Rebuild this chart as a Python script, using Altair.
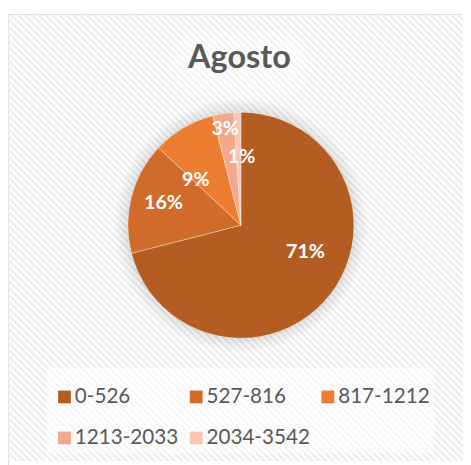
import altair as alt
import pandas as pd

# ---- data ----
categories = ["0-526", "527-816", "817-1212", "1213-2033", "2034-3542"]
values = [71, 16, 9, 3, 1]
colors = ["#B45D22", "#D06B2A", "#ED7D31", "#F1A88B", "#F6C6B6"]
title_text = "Agosto"

W, H = 463, 457
CX, CY, R = 237, 217, 115

df = pd.DataFrame({"cat": categories, "value": values, "idx": list(range(len(categories)))})
df["label"] = [f"{v}%" for v in values]
one = pd.DataFrame({"a": [0]})

# frame
frame = alt.Chart(one).mark_rect(fill="white", stroke="#D9D9D9", strokeWidth=1).encode(
    x=alt.value(0.5), y=alt.value(2.5), x2=alt.value(W + 20), y2=alt.value(H + 20)
)

# diagonal hatch background
stripes = (
    alt.Chart(alt.sequence(start=-480, stop=480, step=7, as_="c"))
    .transform_calculate(x0="datum.c", y0="3", x1="datum.c + 480", y1="483")
    .mark_rule(stroke="#EEEEEE", strokeWidth=2.6, clip=True)
    .encode(
        x=alt.X("x0:Q", scale=None, axis=None),
        y=alt.Y("y0:Q", scale=None, axis=None),
        x2="x1:Q",
        y2="y1:Q",
    )
)

legend_box = alt.Chart(one).mark_rect(fill="white", opacity=0.55).encode(
    x=alt.value(39), y=alt.value(362), x2=alt.value(434), y2=alt.value(449)
)

title_glow = [
    alt.Chart(one).mark_rect(fill="white", opacity=0.2, cornerRadius=cr).encode(
        x=alt.value(175 - g), y=alt.value(30 - g), x2=alt.value(297 + g), y2=alt.value(75 + g)
    )
    for g, cr in [(12, 30), (6, 24), (0, 18)]
]

# soft shadow around the pie
shadows = [
    alt.Chart(one)
    .mark_arc(radius=rr, theta=0, theta2=6.2832, fill="#000000", opacity=0.018)
    .encode(x=alt.value(CX), y=alt.value(CY))
    for rr in [128, 125, 122, 119, 117]
]

title = alt.Chart(one).mark_text(
    text=title_text, font="Lato", fontSize=33, fontWeight="bold", color="#595959",
    align="center", baseline="alphabetic",
).encode(x=alt.value(235.5), y=alt.value(57))

pie = alt.Chart(df).mark_arc(radius=R, stroke="#ffffff", strokeWidth=0.6, strokeOpacity=0.6).encode(
    theta=alt.Theta("value:Q", stack=True),
    order=alt.Order("idx:Q"),
    color=alt.Color(
        "cat:N",
        scale=alt.Scale(domain=categories, range=colors),
        legend=alt.Legend(
            title=None,
            orient="none",
            legendX=47,
            legendY=381,
            direction="horizontal",
            columns=3,
            symbolType="square",
            symbolSize=169,
            symbolStrokeWidth=0,
            labelFont="Lato",
            labelFontSize=21,
            labelColor="#595959",
            labelOffset=0,
            columnPadding=7,
            rowPadding=20,
            gridAlign="all",
        ),
    ),
    x=alt.value(CX),
    y=alt.value(CY),
)

# labels at each slice's mid angle (Excel-like best-fit radius / nudge)
labels = (
    alt.Chart(df)
    .transform_joinaggregate(total="sum(value)")
    .transform_window(cum="sum(value)", sort=[{"field": "idx"}], frame=[None, 0])
    .transform_calculate(
        lr="[71, 82, 65, 99, 69][datum.idx]",
        nudge="[-15.5, 1.8, -14.4, -0.3, 2.4][datum.idx]",
    )
    .transform_calculate(
        mid="(datum.cum - datum.value / 2) / datum.total * 2 * PI + datum.nudge * PI / 180"
    )
    .transform_calculate(
        lx=f"{CX} + datum.lr * sin(datum.mid)",
        ly=f"{CY} - datum.lr * cos(datum.mid)",
    )
    .mark_text(font="Lato", fontSize=20, fontWeight="bold", color="white", align="center", baseline="middle")
    .encode(
        x=alt.X("lx:Q", scale=None, axis=None),
        y=alt.Y("ly:Q", scale=None, axis=None),
        text="label:N",
    )
)

chart = (
    alt.layer(frame, stripes, legend_box, *title_glow, *shadows, title, pie, labels)
    .properties(width=W, height=H, padding=0, autosize=alt.AutoSizeParams(type="none"))
    .configure_view(stroke=None)
)

chart.save("out.html", embed_options={"renderer": "svg", "actions": False})
